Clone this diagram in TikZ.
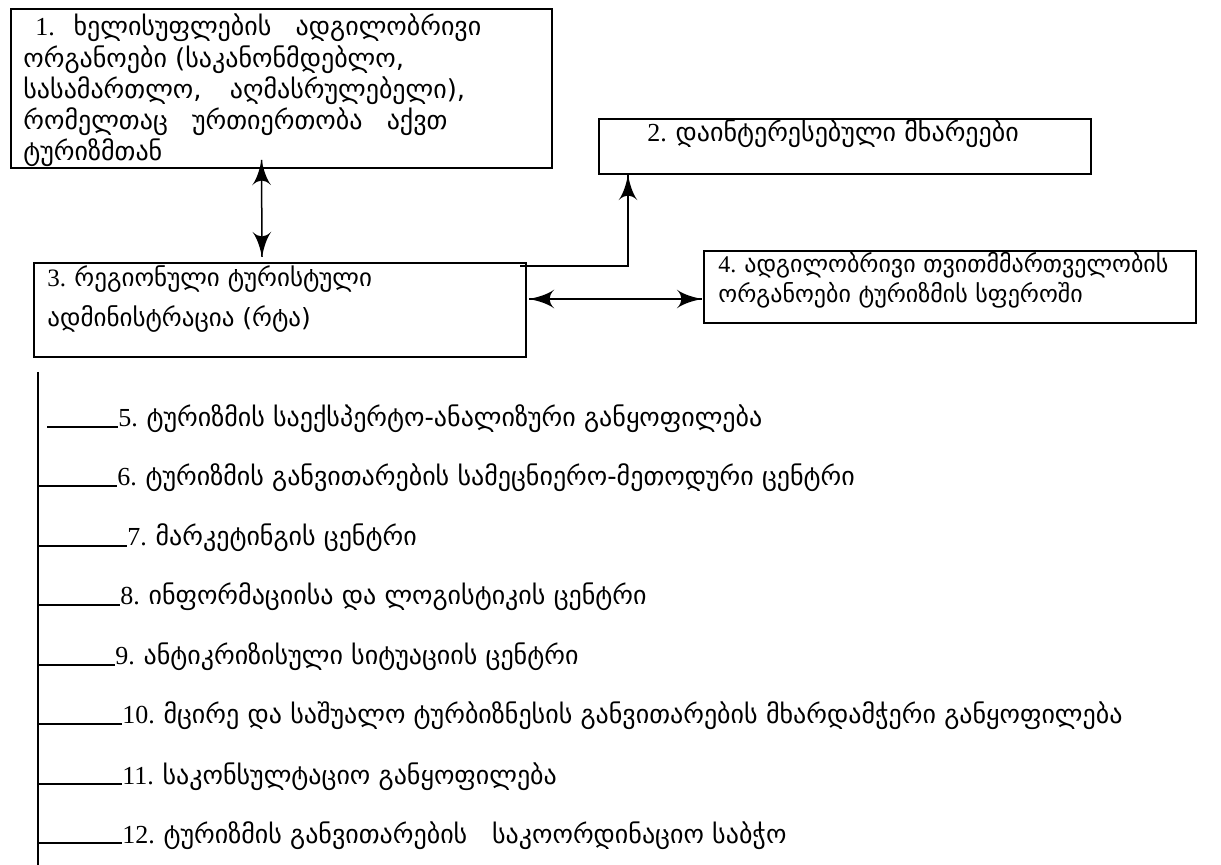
\documentclass[tikz,border=0pt]{standalone}
\usepackage{fontspec}
\setmainfont{Liberation Serif}
\newfontfamily\geo{DejaVu Sans}
\usepackage{tikz}
\usetikzlibrary{arrows}
\usetikzlibrary{decorations.markings}
\usetikzlibrary{positioning}
\tikzset{endtip/.style = {decoration={markings,
                                      mark=at position 1 with {\arrow[scale=2.5]{latex'}}},
                          postaction={decorate}}}
\tikzset{bothtips/.style = {decoration={markings,
                                        mark=at position 0 with {\arrowreversed[scale=2.5]{latex'}},
                                        mark=at position 1 with {\arrow[scale=2.5]{latex'}}},
                            postaction={decorate}}}
\tikzset{box/.style = {draw, line width = 1pt, inner sep = 0, anchor = north west}}
\tikzset{txt/.style = {anchor = base west, inner sep = 0, font = \fontsize{13}{15}\selectfont}}

\begin{document}
\begin{tikzpicture}[x = 0.5pt, y = -0.5pt]
        \useasboundingbox (0, 0) rectangle (1221, 865);

        \node [box, minimum width = 270.5pt, minimum height = 79.5pt] (org) at (10, 8) {};
        \node [box, minimum width = 246pt, minimum height = 27.5pt] (side) at (598, 118) {};
        \node [box, minimum width = 246pt, minimum height = 47pt] (rta) at (33, 262) {};
        \node [box, minimum width = 246pt, minimum height = 36pt] (self) at (703, 250) {};

        \node [txt] (org1) at (35, 36) {1.\hspace{5pt} {\geo ხელისუფლების\hspace{8pt} ადგილობრივი}};
        \node [txt] (org2) at (23, 68) {\geo ორგანოები (საკანონმდებლო,};
        \node [txt] (org3) at (23, 99) {\geo სასამართლო,\hspace{10pt} აღმასრულებელი),};
        \node [txt] (org4) at (23, 130) {\geo რომელთაც\hspace{8pt} ურთიერთობა\hspace{8pt} აქვთ};
        \node [txt] (org5) at (23, 161) {\geo ტურიზმთან};
        \node [txt] (side1) at (647, 142) {2. {\geo დაინტერესებული მხარეები}};
        \node [txt, font = \fontsize{12.5}{15}\selectfont] (rta1) at (47, 287) {3. {\geo რეგიონული ტურისტული}};
        \node [txt, font = \fontsize{12.5}{15}\selectfont] (rta2) at (47, 327) {\geo ადმინისტრაცია (რტა)};
        \node [txt, font = \fontsize{12}{15}\selectfont] (self1) at (718, 273) {4. {\geo ადგილობრივი თვითმმართველობის}};
        \node [txt, font = \fontsize{12}{15}\selectfont] (self2) at (718, 303) {\geo ორგანოები ტურიზმის სფეროში};

        \draw [line width = 0.75pt, bothtips] ([xshift = -10pt, yshift = 4.5pt]org.south) -- ([xshift = -9pt, yshift = 2.5pt]rta.north);
        \draw [line width = 0.75pt, endtip] ([xshift = -3.5pt, yshift = -2pt]rta.north east) -| ([xshift = 15pt]side.south west);
        \draw [line width = 0.75pt, bothtips] ([xshift = 1pt, yshift = 5.5pt]rta.east) -- ([xshift = -0.5pt, yshift = 5.5pt]rta.east -| self.west);

        \coordinate (top) at (38, 372);
        \coordinate (bot) at (38, 865);
        \draw [line width = 1pt] (top) -- (bot);

        \node [txt] (i5) at (118, 427) {5. {\geo ტურიზმის საექსპერტო-ანალიზური განყოფილება}};
        \node [txt] (i6) at (117, 486) {6. {\geo ტურიზმის განვითარების სამეცნიერო-მეთოდური ცენტრი}};
        \node [txt] (i7) at (127, 546) {7. {\geo მარკეტინგის ცენტრი}};
        \node [txt] (i8) at (120, 605) {8. {\geo ინფორმაციისა და ლოგისტიკის ცენტრი}};
        \node [txt] (i9) at (115, 665) {9. {\geo ანტიკრიზისული სიტუაციის ცენტრი}};
        \node [txt] (i10) at (122, 724) {10. {\geo მცირე და საშუალო ტურბიზნესის განვითარების მხარდამჭერი განყოფილება}};
        \node [txt] (i11) at (122, 784) {11. {\geo საკონსულტაციო განყოფილება}};
        \node [txt] (i12) at (122, 843) {12. {\geo ტურიზმის განვითარების \ \ საკოორდინაციო საბჭო}};

        \draw [line width = 0.75pt] (47, 427) -- (i5.base west);
        \foreach \i in {6, 7, ..., 12}
          \draw [line width = 0.75pt] (top |- i\i.base west) -- (i\i.base west);
      \end{tikzpicture}
\end{document}
